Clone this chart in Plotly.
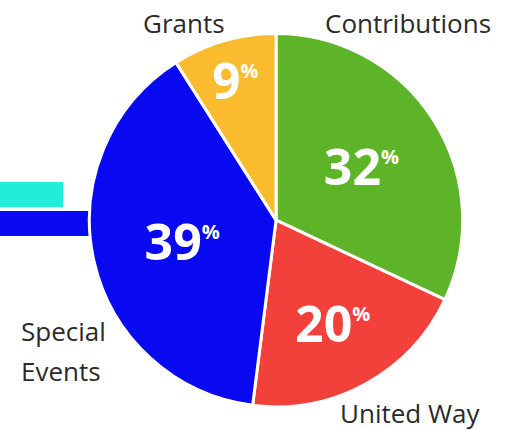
import plotly.graph_objects as go

categories = ["Contributions", "United Way", "Special Events", "Grants"]
values = [32, 20, 39, 9]
colors = ["#5EB428", "#F2413A", "#0A0AF2", "#FBBB2E"]

W, H = 515, 430

fig = go.Figure()

fig.add_trace(go.Pie(
    labels=categories,
    values=values,
    sort=False,
    direction="clockwise",
    rotation=0,
    marker=dict(colors=colors, line=dict(color="white", width=3)),
    texttemplate="%{value}<sup><span style='font-size:20px'>%</span></sup>",
    textposition="inside",
    insidetextorientation="horizontal",
    textfont=dict(family="Open Sans", size=50, color="white", weight="bold"),
    showlegend=False,
    hoverinfo="skip",
    domain=dict(x=[0.172, 0.900], y=[0.054, 0.922]),
))

# decorative bars at left
fig.add_shape(type="rect", xref="paper", yref="paper",
              x0=0, x1=63 / W, y0=1 - 207 / H, y1=1 - 182 / H,
              fillcolor="#22EDD8", line=dict(width=0), layer="below")
fig.add_shape(type="rect", xref="paper", yref="paper",
              x0=0, x1=0.2, y0=1 - 236 / H, y1=1 - 211 / H,
              fillcolor="#0A0AF2", line=dict(width=0), layer="below")

# outside labels: (text, x px, y px, xanchor)
labels_out = [
    ("Grants", 184, 23, "center"),
    ("Contributions", 408, 23, "center"),
    ("Special", 19, 331, "left"),
    ("Events", 19, 371, "left"),
    ("United Way", 410, 413, "center"),
]
for txt, x, y, xa in labels_out:
    fig.add_annotation(text=txt, x=x / W, y=1 - y / H, xref="paper", yref="paper",
                       xanchor=xa, yanchor="middle", showarrow=False,
                       font=dict(family="Open Sans", size=26, color="#2a2a2a"))

fig.update_layout(
    width=W, height=H,
    margin=dict(l=0, r=0, t=0, b=0),
    paper_bgcolor="white", plot_bgcolor="white",
)

fig.write_html("out.html", config={"displayModeBar": False},
               post_script="document.body.style.margin='0';")
